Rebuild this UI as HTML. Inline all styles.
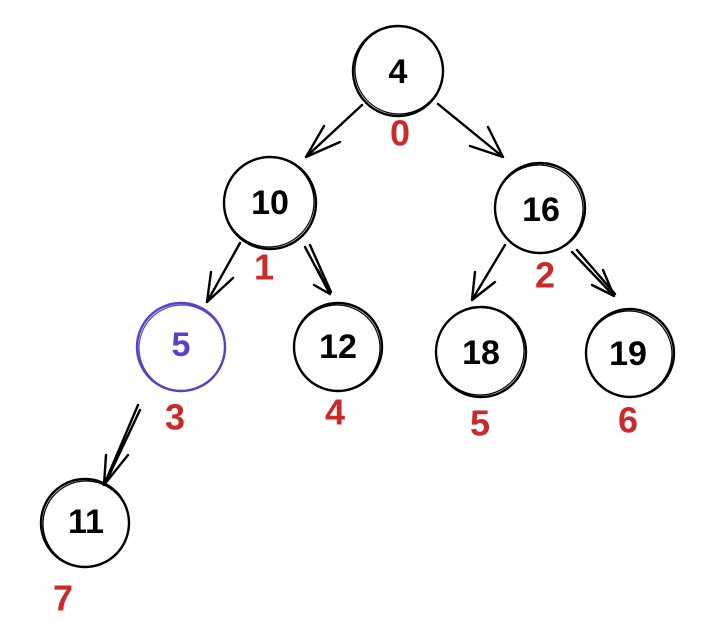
<!DOCTYPE html>
<html><head><meta charset="utf-8"><style>
html,body{margin:0;padding:0;background:#fff;width:720px;height:640px;overflow:hidden}
svg text{font-family:"Liberation Sans",sans-serif;text-anchor:middle;dominant-baseline:central;font-weight:bold}
</style></head><body>
<svg width="720" height="640" viewBox="0 0 720 640" xmlns="http://www.w3.org/2000/svg">
<g fill="none" stroke="#000" stroke-width="2.4" stroke-linecap="round">
<circle cx="398" cy="71" r="45"/><circle cx="399" cy="70" r="44" stroke-width="1.2"/>
<circle cx="270" cy="203" r="46"/><circle cx="269" cy="202" r="45" stroke-width="1.2"/>
<circle cx="540" cy="208" r="45"/><circle cx="539" cy="209" r="44" stroke-width="1.2"/>
<circle cx="181" cy="347" r="44" stroke="#5b3fc8"/><circle cx="182" cy="348" r="43" stroke="#5b3fc8" stroke-width="1.2"/>
<circle cx="338" cy="347" r="44"/><circle cx="337" cy="348" r="43" stroke-width="1.2"/>
<circle cx="481" cy="352" r="45"/><circle cx="480" cy="351" r="44" stroke-width="1.2"/>
<circle cx="630" cy="353" r="44"/><circle cx="629" cy="354" r="43" stroke-width="1.2"/>
<circle cx="85" cy="523" r="44"/><circle cx="86" cy="524" r="43" stroke-width="1.2"/>
<path d="M362 105 L306 157 M306 157 L324 126 M306 157 L340 142"/>
<path d="M438 104 L503 157 M503 157 L488 127 M503 157 L470 146"/>
<path d="M240 243 L207 302 M207 302 L211 272 M207 302 L233 278"/>
<path d="M305 247 L330 294 M330 294 L318 270 M330 294 L314 285 M310 245 L331 292"/>
<path d="M505 245 L472 300 M472 300 L475 272 M472 300 L495 282"/>
<path d="M572 252 L614 296 M614 296 L603 270 M614 296 L592 285 M577 250 L615 294"/>
<path d="M138 405 L104 485 M140 410 L106 482 M104 485 L106 455 M104 485 L128 455"/>
</g>
<g font-size="34" fill="#000">
<text x="398" y="72">4</text>
<text x="270" y="203">10</text>
<text x="541" y="210">16</text>
<text x="181" y="345" fill="#5b3fc8">5</text>
<text x="338" y="347">12</text>
<text x="481" y="353">18</text>
<text x="628" y="354">19</text>
<text x="86" y="522">11</text>
</g>
<g font-size="36" fill="#cc2a2a">
<text x="400" y="133">0</text>
<text x="264" y="267">1</text>
<text x="545" y="275">2</text>
<text x="175" y="417">3</text>
<text x="335" y="412">4</text>
<text x="480" y="423">5</text>
<text x="628" y="420">6</text>
<text x="63" y="598">7</text>
</g>
</svg>
</body></html>
